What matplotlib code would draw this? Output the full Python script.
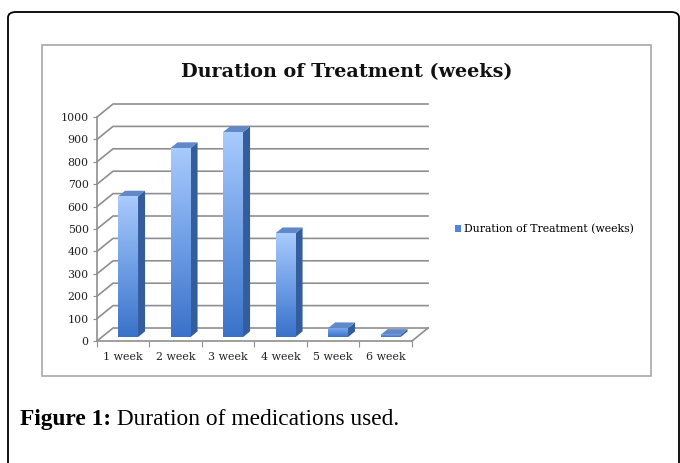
import numpy as np
import matplotlib
matplotlib.use("Agg")
import matplotlib.pyplot as plt
from matplotlib.patches import Polygon, Rectangle, FancyBboxPatch, Patch
from matplotlib.colors import LinearSegmentedColormap

# ---- data ----
categories = ["1 week", "2 week", "3 week", "4 week", "5 week", "6 week"]
values = [628, 844, 915, 464, 40, 10]
yticks = [0, 100, 200, 300, 400, 500, 600, 700, 800, 900, 1000]
title = "Duration of Treatment (weeks)"
series_name = "Duration of Treatment (weeks)"
caption_bold = "Figure 1:"
caption_rest = " Duration of medications used."

W, H = 680, 463
fig = plt.figure(figsize=(W / 100, H / 100), dpi=100)
fig.patch.set_facecolor("white")

def fx(px):
    return px / W

def fy(py):
    return 1 - py / H

# outer rounded frame
outer = FancyBboxPatch((fx(8), fy(520)), fx(679) - fx(8), fy(12) - fy(520),
                       boxstyle="round,pad=0,rounding_size=0.012",
                       transform=fig.transFigure, fill=False, edgecolor="black",
                       linewidth=1.3, clip_on=False)
fig.patches.append(outer)
# inner chart frame
inner = Rectangle((fx(42), fy(376)), fx(651) - fx(42), fy(45) - fy(376),
                  transform=fig.transFigure, fill=False, edgecolor="#a8a8a8",
                  linewidth=1.2)
fig.patches.append(inner)

# ---- 3D-ish axes ----
ncat = len(categories)
dxc = 0.305   # depth offset in category units
dyv = 58.0    # depth offset in value units
ax = fig.add_axes([fx(97), fy(341), fx(428) - fx(97), fy(104) - fy(341)])
ax.set_xlim(0, ncat + dxc)
ax.set_ylim(0, 1000 + dyv)
ax.patch.set_alpha(0)

grid_c = "#8f8f8f"
for t in yticks:
    ax.plot([0, dxc, ncat + dxc], [t, t + dyv, t + dyv], color=grid_c, lw=1.2,
            zorder=1, clip_on=False)
# floor right edge
ax.plot([ncat, ncat + dxc], [0, dyv], color=grid_c, lw=1.2, zorder=1, clip_on=False)

# bars
front_cmap = LinearSegmentedColormap.from_list("f", ["#3a72c9", "#6f9fe6", "#a9cbfd"])
f0, d = 0.3, 0.44
bw = 0.38
for i, v in enumerate(values):
    x0 = i + 0.5 - bw / 2 + f0 * dxc
    x1 = x0 + bw
    y0 = f0 * dyv
    y1 = v + f0 * dyv
    # side face
    side = Polygon([(x1, y0), (x1 + d * dxc, y0 + d * dyv), (x1 + d * dxc, y1 + d * dyv), (x1, y1)],
                   closed=True, facecolor="#345d9e", edgecolor="none", zorder=3)
    ax.add_patch(side)
    # top face
    top = Polygon([(x0, y1), (x0 + d * dxc, y1 + d * dyv), (x1 + d * dxc, y1 + d * dyv), (x1, y1)],
                  closed=True, facecolor="#6189c9", edgecolor="none", zorder=3)
    ax.add_patch(top)
    # front face with gradient
    rect = Rectangle((x0, y0), bw, v, facecolor="none", edgecolor="none", zorder=4)
    ax.add_patch(rect)
    frac_top = 1.0 if v > 100 else 0.6
    grad = np.linspace(0, frac_top, 256).reshape(-1, 1)
    im = ax.imshow(grad, extent=(x0, x1, y0, y1), origin="lower", cmap=front_cmap,
                   vmin=0, vmax=1, aspect="auto", zorder=4, interpolation="bilinear")
    im.set_clip_path(rect)

ax.set_xlim(0, ncat + dxc)
ax.set_ylim(0, 1000 + dyv)

# axes styling
for s in ["top", "right"]:
    ax.spines[s].set_visible(False)
ax.spines["left"].set_bounds(0, 1000)
ax.spines["bottom"].set_bounds(0, ncat)
for s in ["left", "bottom"]:
    ax.spines[s].set_color(grid_c)
    ax.spines[s].set_linewidth(1.2)

tick_font = dict(family="DejaVu Serif", size=7.9, color="#222222")
ax.set_yticks(yticks)
ax.set_yticklabels([str(t) for t in yticks], fontdict=tick_font)
ax.tick_params(axis="y", length=3, color=grid_c, pad=3)

ax.set_xticks(range(ncat + 1))
ax.set_xticklabels([""] * (ncat + 1))
ax.set_xticks([i + 0.5 for i in range(ncat)], minor=True)
ax.set_xticklabels(categories, minor=True, fontdict=tick_font)
ax.tick_params(axis="x", which="major", length=4, color=grid_c)
ax.tick_params(axis="x", which="minor", length=0, pad=8)

# title
fig.text(fx(347), fy(72), title, ha="center", va="center",
         family="DejaVu Serif", fontweight="bold", fontsize=13.8, color="#111111")

# legend
fig.legend(handles=[Patch(facecolor="#4f86dc", edgecolor="none", label=series_name)],
           loc="center left", bbox_to_anchor=(fx(445), fy(229)), frameon=False,
           handlelength=0.55, handleheight=0.55, handletextpad=0.35,
           prop=dict(family="DejaVu Serif", size=7.8))

# caption
t1 = fig.text(fx(20), fy(425), caption_bold, ha="left", va="baseline",
              family="Liberation Serif", fontweight="bold", fontsize=16.8)
fig.canvas.draw()
bb = t1.get_window_extent()
fig.text(bb.x1 / W, fy(425), caption_rest, ha="left", va="baseline",
         family="Liberation Serif", fontsize=16.8)

fig.savefig("out.png", dpi=100)
